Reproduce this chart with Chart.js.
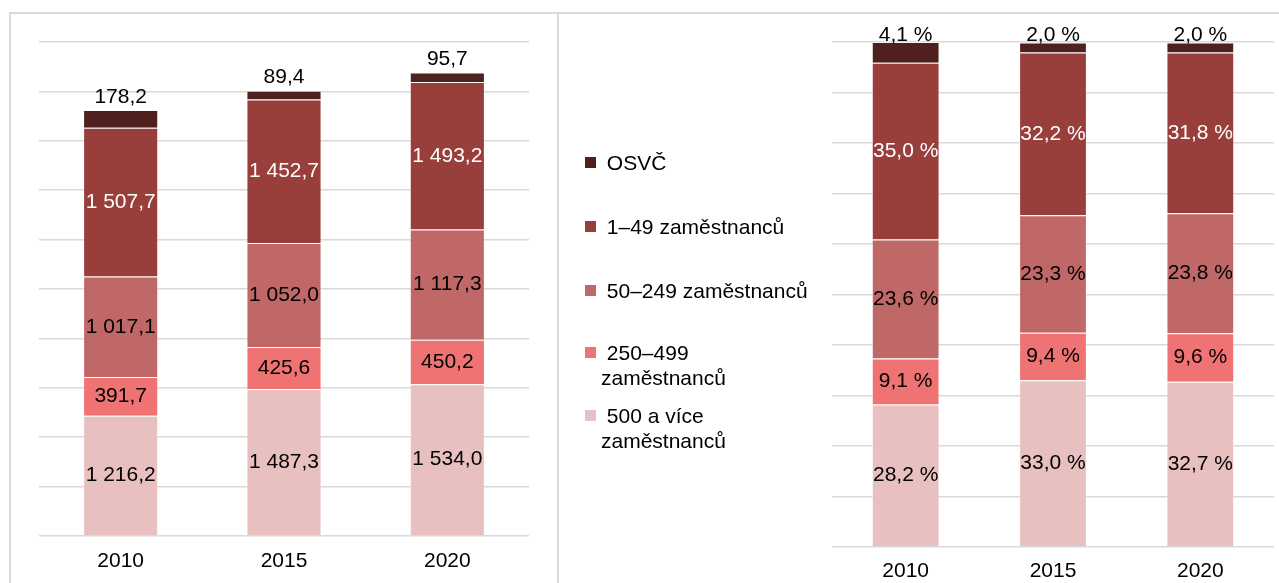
<!DOCTYPE html>
<html lang="cs">
<head>
<meta charset="utf-8">
<title>Zaměstnanci podle velikosti podniku</title>
<script src="https://cdn.jsdelivr.net/npm/chart.js@4/dist/chart.umd.min.js"></script>
<style>
    html, body { margin: 0; padding: 0; background: #fff; }
    #page { position: relative; width: 1279px; height: 583px; overflow: hidden; font-family: "Liberation Sans", Arial, sans-serif; }
    canvas { position: absolute; top: 0; }
    .frame { position: absolute; background: #d9d9d9; }
    .legend-item { position: absolute; left: 585px; font-size: 21px; line-height: 25px; color: #000; }
    .legend-item .box { position: absolute; left: 0; top: 7px; width: 11px; height: 11px; }
    .legend-item .txt { position: absolute; left: 16px; white-space: pre; }
</style>
</head>
<body>
<div id="page">
    <canvas id="absChart" width="557" height="597" style="left:0"></canvas>
    <canvas id="pctChart" width="720" height="596" style="left:559px"></canvas>
    <div class="frame" style="left:9px; top:12px; width:1270px; height:2px"></div>
    <div class="frame" style="left:9px; top:12px; width:2px; height:571px"></div>
    <div class="frame" style="left:557px; top:12px; width:2px; height:571px"></div>
    <div id="legend"></div>
</div>
<script>
// categories
const years = ['2010', '2015', '2020'];

// series, top of the stack first (legend order)
const seriesNames = ['OSVČ', '1–49 zaměstnanců', '50–249 zaměstnanců', '250–499\nzaměstnanců', '500 a více\nzaměstnanců'];
const seriesColors = ['#50201f', '#983f3c', '#c06868', '#ef7372', '#e8c0bf'];
const labelColors = ['#000', '#fff', '#000', '#000', '#000'];

// absolute values (thousands)
const osvc = [178.2, 89.4, 95.7];
const emp1to49 = [1507.7, 1452.7, 1493.2];
const emp50to249 = [1017.1, 1052.0, 1117.3];
const emp250to499 = [391.7, 425.6, 450.2];
const emp500plus = [1216.2, 1487.3, 1534.0];

// shares (%)
const osvcPct = [4.1, 2.0, 2.0];
const emp1to49Pct = [35.0, 32.2, 31.8];
const emp50to249Pct = [23.6, 23.3, 23.8];
const emp250to499Pct = [9.1, 9.4, 9.6];
const emp500plusPct = [28.2, 33.0, 32.7];

// value axes
const absMax = 5000, absStep = 500;
const pctMax = 100, pctStep = 10;

const FONT = '"Liberation Sans", Arial, sans-serif';

function czNumber(v) {
    const parts = v.toFixed(1).split('.');
    const intPart = parts[0].replace(/\B(?=(\d{3})+(?!\d))/g, '\u00a0');
    return intPart + ',' + parts[1];
}

function czPercent(v) {
    return v.toFixed(1).replace('.', ',') + '\u00a0%';
}

// draws value labels in the middle of each segment, top segment above the bar
const segmentLabels = {
    id: 'segmentLabels',
    afterDatasetsDraw(chart, args, opts) {
        const ctx = chart.ctx;
        const n = chart.data.datasets.length;
        ctx.save();
        ctx.font = '21px ' + FONT;
        ctx.textAlign = 'center';
        ctx.textBaseline = 'middle';
        chart.data.datasets.forEach((ds, i) => {
            const meta = chart.getDatasetMeta(i);
            meta.data.forEach((bar, j) => {
                const p = bar.getProps(['x', 'y', 'base'], true);
                let y;
                if (i === n - 1) {
                    y = Math.max(p.y - opts.topGap, opts.minTopY);
                    ctx.fillStyle = '#000';
                } else {
                    y = (p.y + p.base) / 2;
                    ctx.fillStyle = ds.labelColor;
                }
                ctx.fillText(opts.format(ds.data[j]), p.x, y);
            });
        });
        ctx.restore();
    }
};

function makeDatasets(valuesTopFirst) {
    // chart.js stacks from the first dataset, so reverse to put 500+ at the bottom
    return valuesTopFirst.map((vals, i) => ({
        label: seriesNames[i],
        data: vals,
        backgroundColor: seriesColors[i],
        borderColor: 'rgba(255,255,255,0.35)',
        borderWidth: 1,
        labelColor: labelColors[i],
        categoryPercentage: 1,
        barPercentage: 0.46
    })).reverse();
}

function makeOptions(max, step, padding, tickPadding, labelOpts) {
    return {
        responsive: false,
        animation: false,
        layout: { padding: padding },
        plugins: {
            legend: { display: false },
            tooltip: { enabled: false },
            segmentLabels: labelOpts
        },
        scales: {
            x: {
                stacked: true,
                grid: { display: false, drawTicks: false },
                border: { display: false },
                ticks: { color: '#000', font: { family: FONT, size: 21 }, padding: tickPadding }
            },
            y: {
                stacked: true,
                min: 0,
                max: max,
                ticks: { display: false, stepSize: step },
                grid: { color: '#d9d9d9', lineWidth: 1.5, drawTicks: false },
                border: { display: false }
            }
        }
    };
}

new Chart(document.getElementById('absChart'), {
    type: 'bar',
    data: {
        labels: years,
        datasets: makeDatasets([osvc, emp1to49, emp50to249, emp250to499, emp500plus])
    },
    options: makeOptions(absMax, absStep, { left: 39, right: 28, top: 42, bottom: 10 }, 13,
        { topGap: 13, minTopY: 0, format: czNumber }),
    plugins: [segmentLabels]
});

new Chart(document.getElementById('pctChart'), {
    type: 'bar',
    data: {
        labels: years,
        datasets: makeDatasets([osvcPct, emp1to49Pct, emp50to249Pct, emp250to499Pct, emp500plusPct])
    },
    options: makeOptions(pctMax, pctStep, { left: 273, right: 5, top: 42, bottom: 0 }, 12,
        { topGap: 12, minTopY: 35, format: czPercent }),
    plugins: [segmentLabels]
});

// legend between the two charts
const legendTops = [150, 214, 278, 340, 403];
const legend = document.getElementById('legend');
seriesNames.forEach((name, i) => {
    const item = document.createElement('div');
    item.className = 'legend-item';
    item.style.top = legendTops[i] + 'px';
    const box = document.createElement('div');
    box.className = 'box';
    box.style.background = seriesColors[i];
    const txt = document.createElement('div');
    txt.className = 'txt';
    txt.textContent = '\u00a0' + name;
    item.appendChild(box);
    item.appendChild(txt);
    legend.appendChild(item);
});
</script>
</body>
</html>
